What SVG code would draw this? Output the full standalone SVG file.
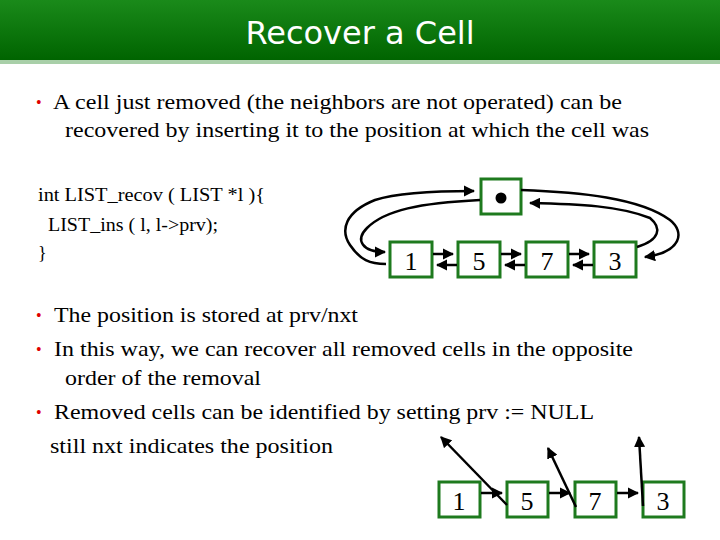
<svg xmlns="http://www.w3.org/2000/svg" width="720" height="540" viewBox="0 0 720 540">
<defs>
<linearGradient id="g" x1="0" y1="0" x2="0" y2="1"><stop offset="0" stop-color="#1a8a1a"/><stop offset="1" stop-color="#006400"/></linearGradient>
<marker id="a" viewBox="0 0 10 10" refX="9" refY="5" markerWidth="4.5" markerHeight="4.5" orient="auto"><path d="M0,0L10,5L0,10z" fill="#000"/></marker>
<style>
.t{font-family:"Liberation Serif",serif;font-size:22px;fill:#000}
.c{font-family:"Liberation Serif",serif;font-size:18px;fill:#000}
.b{fill:#fff;stroke:#1e7a1e;stroke-width:3}
.n{font-family:"Liberation Serif",serif;font-size:26px;text-anchor:middle}
.l{fill:none;stroke:#000;stroke-width:2.5;marker-end:url(#a)}
.d{fill:#e00000;font-family:"Liberation Serif",serif;font-size:16px}
</style>
</defs>
<rect x="0" y="0" width="720" height="60" fill="url(#g)"/>
<rect x="0" y="60" width="720" height="4" fill="#a8cfa8"/>
<text x="360" y="44" text-anchor="middle" font-family="DejaVu Sans,sans-serif" font-size="32" fill="#fff">Recover a Cell</text>
<text class="d" x="36" y="108">•</text>
<text class="t" x="53" y="109" textLength="569" lengthAdjust="spacingAndGlyphs">A cell just removed (the neighbors are not operated) can be</text>
<text class="t" x="65" y="137" textLength="584" lengthAdjust="spacingAndGlyphs">recovered by inserting it to the position at which the cell was</text>
<text class="c" x="38" y="201" textLength="227" lengthAdjust="spacingAndGlyphs">int LIST_recov ( LIST *l ){</text>
<text class="c" x="48" y="231" textLength="170" lengthAdjust="spacingAndGlyphs">LIST_ins ( l, l-&gt;prv);</text>
<text class="c" x="38" y="259">}</text>
<text class="d" x="36" y="321">•</text>
<text class="t" x="54" y="322" textLength="304" lengthAdjust="spacingAndGlyphs">The position is stored at prv/nxt</text>
<text class="d" x="36" y="355">•</text>
<text class="t" x="54" y="356" textLength="579" lengthAdjust="spacingAndGlyphs">In this way, we can recover all removed cells in the opposite</text>
<text class="t" x="65" y="385" textLength="196" lengthAdjust="spacingAndGlyphs">order of the removal</text>
<text class="d" x="36" y="418">•</text>
<text class="t" x="54" y="419" textLength="540" lengthAdjust="spacingAndGlyphs">Removed cells can be identified by setting prv := NULL</text>
<text class="t" x="50" y="453" textLength="283" lengthAdjust="spacingAndGlyphs">still nxt indicates the position</text>
<g id="top-head"><rect class="b" x="481" y="179" width="40" height="35"/><circle cx="501" cy="198" r="5.5"/></g>
<g id="top-1"><rect class="b" x="390" y="242" width="42" height="35"/><text class="n" x="411" y="270">1</text></g>
<g id="top-5"><rect class="b" x="458" y="242" width="42" height="35"/><text class="n" x="479" y="270">5</text></g>
<g id="top-7"><rect class="b" x="526" y="242" width="42" height="35"/><text class="n" x="547" y="270">7</text></g>
<g id="top-3"><rect class="b" x="594" y="242" width="42" height="35"/><text class="n" x="615" y="270">3</text></g>
<g id="bot-1"><rect class="b" x="439" y="482" width="41" height="35"/><text class="n" x="459" y="510">1</text></g>
<g id="bot-5"><rect class="b" x="507" y="482" width="41" height="35"/><text class="n" x="527" y="510">5</text></g>
<g id="bot-7"><rect class="b" x="575" y="482" width="41" height="35"/><text class="n" x="595" y="510">7</text></g>
<g id="bot-3"><rect class="b" x="643" y="482" width="41" height="35"/><text class="n" x="663" y="510">3</text></g>
<g id="connectors">
<path class="l" d="M433,254H453"/><path class="l" d="M457,265H437"/>
<path class="l" d="M501,254H521"/><path class="l" d="M525,265H505"/>
<path class="l" d="M569,254H589"/><path class="l" d="M593,265H573"/>
<path class="l" d="M480,200C420,203 385,210 367,228C355,240 362,252 385,252"/>
<path class="l" d="M386,264C370,264 360,260 350,245C340,230 345,212 375,200C400,192 440,191 474,191"/>
<path class="l" d="M521,190C580,192 640,198 670,220C685,232 682,252 645,257"/>
<path class="l" d="M637,247C660,240 662,228 650,218C620,206 580,204 530,203"/>
<path class="l" d="M481,493H502"/><path class="l" d="M549,493H570"/><path class="l" d="M617,493H638"/>
<path class="l" d="M507,505L441,437"/><path class="l" d="M576,507L548,448"/><path class="l" d="M643,506L639,437"/>
</g>
</svg>
